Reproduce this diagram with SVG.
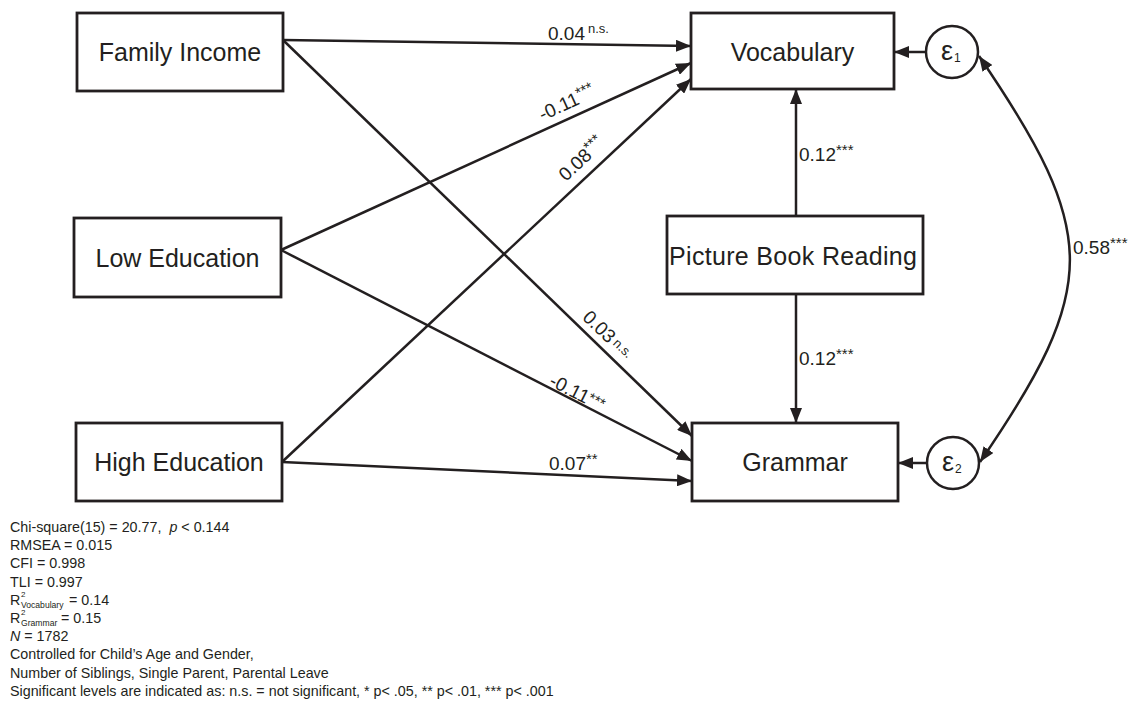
<svg xmlns="http://www.w3.org/2000/svg" width="1132" height="702" viewBox="0 0 1132 702">
<style>
.box{fill:#fff;stroke:#231f20;stroke-width:2.8}
.circ{fill:#fff;stroke:#231f20;stroke-width:2.5}
.lbl{font-family:"Liberation Sans",Arial,sans-serif;font-size:25px;fill:#231f20;text-anchor:middle}
.eps{font-family:"Liberation Sans",Arial,sans-serif;font-size:27px;fill:#231f20}
.sub{font-family:"Liberation Sans",Arial,sans-serif;font-size:12px;fill:#231f20}
.edge{fill:none;stroke:#231f20;stroke-width:2.5}
.coef{font-family:"Liberation Sans",Arial,sans-serif;font-size:19px;fill:#231f20}
.star{font-size:15px}
.ns{font-size:13px}
.foot{font-family:"Liberation Sans",Arial,sans-serif;font-size:14.3px;fill:#231f20}
.foot.sq{font-size:8px}
.foot.sb{font-size:8.6px}
</style>
<defs>
<marker id="ah" markerUnits="userSpaceOnUse" markerWidth="16" markerHeight="12" refX="15" refY="6" orient="auto-start-reverse">
<path d="M0,0 L15,6 L0,12 z" fill="#231f20"/>
</marker>
</defs>
<rect width="1132" height="702" fill="#fff"/>
<g id="connectors">
<line class="edge" x1="283" y1="40" x2="691" y2="46" marker-end="url(#ah)"/>
<line class="edge" x1="283" y1="40" x2="692" y2="436" marker-end="url(#ah)"/>
<line class="edge" x1="281" y1="250" x2="691" y2="63" marker-end="url(#ah)"/>
<line class="edge" x1="281" y1="250" x2="692" y2="461" marker-end="url(#ah)"/>
<line class="edge" x1="282" y1="462" x2="691" y2="79" marker-end="url(#ah)"/>
<line class="edge" x1="282" y1="462" x2="692" y2="481" marker-end="url(#ah)"/>
<line class="edge" x1="796" y1="216" x2="796" y2="89" marker-end="url(#ah)"/>
<line class="edge" x1="796" y1="294" x2="796" y2="423" marker-end="url(#ah)"/>
<line class="edge" x1="926" y1="52" x2="894" y2="52" marker-end="url(#ah)"/>
<line class="edge" x1="927" y1="463" x2="898" y2="463" marker-end="url(#ah)"/>
<path class="edge" d="M979,56 C1100,233 1100,287 980,462" marker-start="url(#ah)" marker-end="url(#ah)"/>
<text class="coef" x="548" y="40">0.04<tspan class="ns" dx="3" dy="-7">n.s.</tspan></text>
<text class="coef" x="542.5" y="121" transform="rotate(-24.5 542.5 121)">-0.11<tspan class="star" dy="-6">***</tspan></text>
<text class="coef" x="566" y="182" transform="rotate(-43 566 182)">0.08<tspan class="star" dy="-6">***</tspan></text>
<text class="coef" x="581.5" y="318.5" transform="rotate(44 581.5 318.5)">0.03<tspan class="ns" dx="3" dy="-3">n.s.</tspan></text>
<text class="coef" x="548" y="385" transform="rotate(27 548 385)">-0.11<tspan class="star" dy="-3">***</tspan></text>
<text class="coef" x="549" y="470">0.07<tspan class="star" dy="-6">**</tspan></text>
<text class="coef" x="799" y="161">0.12<tspan class="star" dy="-6">***</tspan></text>
<text class="coef" x="799" y="365">0.12<tspan class="star" dy="-6">***</tspan></text>
<text class="coef" x="1073" y="254">0.58<tspan class="star" dy="-6">***</tspan></text>
</g>
<g id="family-income"><rect class="box" x="77" y="13" width="206" height="78"/><text class="lbl" x="180" y="61">Family Income</text></g>
<g id="low-education"><rect class="box" x="74" y="218" width="207" height="79"/><text class="lbl" x="177.5" y="267">Low Education</text></g>
<g id="high-education"><rect class="box" x="76" y="423" width="206" height="78"/><text class="lbl" x="179" y="471">High Education</text></g>
<g id="vocabulary"><rect class="box" x="691" y="13" width="203" height="76"/><text class="lbl" x="792.5" y="61">Vocabulary</text></g>
<g id="picture-book-reading"><rect class="box" x="667" y="216" width="256" height="78"/><text class="lbl" x="793" y="265" textLength="248">Picture Book Reading</text></g>
<g id="grammar"><rect class="box" x="692" y="423" width="206" height="78"/><text class="lbl" x="795" y="471">Grammar</text></g>
<g id="e1"><circle class="circ" cx="952" cy="52" r="26"/><text class="eps" x="941" y="60">ε</text><text class="sub" x="954" y="62">1</text></g>
<g id="e2"><circle class="circ" cx="953" cy="463" r="26"/><text class="eps" x="942" y="471">ε</text><text class="sub" x="955" y="473">2</text></g>
<g id="footer">
<text class="foot" x="10" y="532">Chi-square(15) = 20.77,<tspan dx="8" font-style="italic">p</tspan> &lt; 0.144</text>
<text class="foot" x="10" y="550.2">RMSEA = 0.015</text>
<text class="foot" x="10" y="568.4">CFI = 0.998</text>
<text class="foot" x="10" y="586.6">TLI = 0.997</text>
<text class="foot" x="10" y="604.8">R</text><text class="foot sq" x="21" y="597">2</text><text class="foot sb" x="21" y="607.5">Vocabulary</text><text class="foot" x="69" y="604.8">= 0.14</text>
<text class="foot" x="10" y="623">R</text><text class="foot sq" x="21" y="615.2">2</text><text class="foot sb" x="21" y="625.7">Grammar</text><text class="foot" x="61" y="623">= 0.15</text>
<text class="foot" x="10" y="641.2"><tspan font-style="italic">N</tspan> = 1782</text>
<text class="foot" x="10" y="659.4">Controlled for Child’s Age and Gender,</text>
<text class="foot" x="10" y="677.6">Number of Siblings, Single Parent, Parental Leave</text>
<text class="foot" x="10" y="695.8">Significant levels are indicated as: n.s. = not significant, * p&lt; .05, ** p&lt; .01, *** p&lt; .001</text>
</g>
</svg>
